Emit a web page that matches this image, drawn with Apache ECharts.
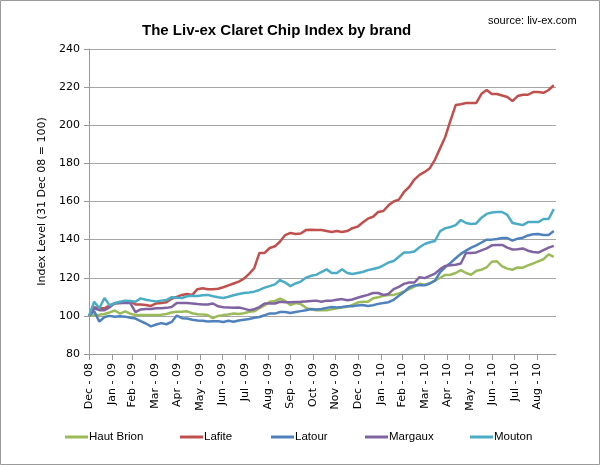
<!DOCTYPE html>
<html>
<head>
<meta charset="utf-8">
<script src="https://cdn.jsdelivr.net/npm/echarts@6/dist/echarts.min.js"></script>
<style>
html,body{margin:0;padding:0;background:#fff;}
#chart{width:600px;height:465px;}
</style>
</head>
<body>
<div id="chart"></div>
<script>
const dates = [
'2008-12-31',
'2009-01-07','2009-01-14','2009-01-21','2009-01-28',
'2009-02-04','2009-02-11','2009-02-18','2009-02-25',
'2009-03-04','2009-03-11','2009-03-18','2009-03-25',
'2009-04-01','2009-04-08','2009-04-15','2009-04-22','2009-04-29',
'2009-05-06','2009-05-13','2009-05-20','2009-05-27',
'2009-06-03','2009-06-10','2009-06-17','2009-06-24',
'2009-07-01','2009-07-08','2009-07-15','2009-07-22','2009-07-29',
'2009-08-05','2009-08-12','2009-08-19','2009-08-26',
'2009-09-02','2009-09-09','2009-09-16','2009-09-23','2009-09-30',
'2009-10-07','2009-10-14','2009-10-21','2009-10-28',
'2009-11-04','2009-11-11','2009-11-18','2009-11-25',
'2009-12-02','2009-12-09','2009-12-16','2009-12-23','2009-12-30',
'2010-01-06','2010-01-13','2010-01-20','2010-01-27',
'2010-02-03','2010-02-10','2010-02-17','2010-02-24',
'2010-03-03','2010-03-10','2010-03-17','2010-03-24','2010-03-31',
'2010-04-07','2010-04-14','2010-04-21','2010-04-28',
'2010-05-05','2010-05-12','2010-05-19','2010-05-26',
'2010-06-02','2010-06-09','2010-06-16','2010-06-23','2010-06-30',
'2010-07-07','2010-07-14','2010-07-21','2010-07-28',
'2010-08-04','2010-08-11','2010-08-18','2010-08-25',
'2010-09-01','2010-09-08','2010-09-15','2010-09-22'
];

const hautBrion = [100,100.3,100.6,101,101.8,102.8,101.2,102.4,101.2,100.5,
100.5,100.4,100.5,100.4,100.6,101,101.8,102.2,102.2,102.4,
101.4,100.9,100.7,100.4,98.8,100,100.4,100.7,101.2,101,
101.4,102.2,102.4,104,105.5,107.4,107.8,109,107.8,105.7,
106.7,106.2,104.2,103.4,103,103,103,103.5,104,104.4,
104.8,105.8,107,107.4,107.4,109.2,109.8,110.5,111,111,
111.8,112.8,114,115.3,116.8,116.4,117.2,118.5,120,121.5,
121.6,122.5,124,122.5,121.6,123.7,124.2,125.5,128.4,128.6,
126,124.8,124.2,125.4,125.3,126.5,127.5,128.6,129.7,132.3,
131];

const lafite = [100,104.5,104,104,105.5,106.5,106.7,107,107.8,106,
106,105.7,105.2,106.5,106.7,107.2,109,110,111,111.5,
111,114,114.5,114,114,114.2,115,116,117,118,
119.5,122,125,133,133,135.6,136.5,139,142.4,143.5,
143,143.2,145,145.2,145,145,144.5,144,144.5,144,
144.5,146,146.8,149,151,152,154.5,155,158,160,
161,165,167.6,171.5,174,175.5,177.5,182,188,194,
202.5,210.6,211,211.7,211.7,211.7,216.5,218.5,216.4,216.4,
215.6,214.8,212.7,215.3,216,216,217.4,217.4,217,218.5,
221];

const latour = [100,102.5,97,99.4,100,99.5,99.8,99.6,99,98.6,
97.2,96,94.5,95.5,96.2,95.6,96.8,100.2,98.8,98.6,
98,97.6,97.4,97,97.2,97.2,96.8,97.4,96.9,97.6,
98,98.4,99,99.4,100.3,101.3,101.2,102,102,101.5,
102,102.5,103,103.6,103.4,103.6,104.2,104.6,104.4,104.6,
105,105,105.5,105.7,105.2,105.6,106.3,106.7,107.2,108.4,
110.5,112.5,115,116,116.2,116,117,118.5,123,125.6,
127.8,130.2,132.5,134.2,135.8,137,138.5,140,140,140.3,
140.8,140.8,139.5,140.5,141,142.2,142.8,143,142.4,142.4,
144.5];

const margaux = [100,104,103,103,104.5,106.7,106.7,106.7,106.7,102,
103.4,103.6,103.6,104,104,104.2,104.6,106.7,106.7,106.7,
106.5,106.2,106,106,106.5,105,104.5,104.4,104.2,104.4,
103.8,103,103.5,104.6,106.5,106.5,106.5,107.4,107.2,107.2,
107.3,107.4,107.6,107.8,108,107.4,108,108,108.5,108.8,
108.2,108.6,109.5,110.3,111,112,112,111,111.5,114,
115.2,116.8,117.5,117.5,120.3,119.8,121,122.2,124.5,126.2,
126.6,126.8,127.5,133,133,133.3,134.4,135.4,137,137.2,
137.2,135.8,134.8,135,135.4,134.2,133.5,133.2,134.5,135.8,
136.7];

const mouton = [100,107.4,104,109.4,105.5,106.7,107.4,108,107.8,107.4,
109.2,108.5,108,107.6,108,108.3,109.8,109.5,109.4,110.3,
110.6,110.4,110.8,111,110.3,109.8,109.4,110,110.8,111.5,
112,112.3,112.7,113.6,114.8,115.6,116.5,118.8,117.5,115.6,
117,118,120,121,121.5,123,124.4,122.5,122.5,124.5,
122.5,122,122.5,123,124,124.6,125.2,126.5,128,128.8,
131,133.2,133.2,133.8,136,137.7,138.6,139.3,144.5,146,
146.6,147.6,150.3,148.7,148.2,148.5,151.5,153.5,154.2,154.5,
154.5,153,148.7,148.2,147.6,149.2,149.2,149.2,150.8,150.8,
156];

const seriesNames = ['Haut Brion','Lafite','Latour','Margaux','Mouton'];
const seriesValues = [hautBrion, lafite, latour, margaux, mouton];
const colors = ['#9BBB59','#C0504D','#4F81BD','#8064A2','#4BACC6'];

const tickDates = ['2008-12-31','2009-01-31','2009-02-28','2009-03-31','2009-04-30','2009-05-31',
'2009-06-30','2009-07-31','2009-08-31','2009-09-30','2009-10-31','2009-11-30','2009-12-31',
'2010-01-31','2010-02-28','2010-03-31','2010-04-30','2010-05-31','2010-06-30','2010-07-31','2010-08-31'];
const tickLabels = ['Dec - 08','Jan - 09','Feb - 09','Mar - 09','Apr - 09','May - 09','Jun - 09',
'Jul - 09','Aug - 09','Sep - 09','Oct - 09','Nov - 09','Dec - 09','Jan - 10','Feb - 10',
'Mar - 10','Apr - 10','May - 10','Jun - 10','Jul - 10','Aug - 10'];
const yTicks = [80,100,120,140,160,180,200,220,240];

const DAY = 86400000;
function dayNum(s){ const p = s.split('-'); return Math.round(Date.UTC(+p[0], +p[1]-1, +p[2]) / DAY); }
const tickDays = tickDates.map(dayNum);

const chart = echarts.init(document.getElementById('chart'));
const FONT = 'DejaVu Sans';
const legendLefts = [65,180,271,365,470];

chart.setOption({
  animation: false,
  color: colors,
  title: [
    {text: 'The Liv-ex Claret Chip Index by brand', left: 137, top: 18,
     textStyle: {fontFamily: 'Liberation Sans', fontWeight: 'bold', fontSize: 15, color: '#000'}},
    {text: 'source: liv-ex.com', left: 483, top: 10,
     textStyle: {fontFamily: 'Liberation Sans', fontWeight: 'normal', fontSize: 11, color: '#000'}}
  ],
  graphic: [{type: 'rect', shape: {x: 0.5, y: 0.5, width: 599, height: 464}, style: {fill: 'none', stroke: '#9a9a9a', lineWidth: 1}, silent: true}],
  legend: seriesNames.map((n, i) => ({
    data: [n], left: legendLefts[i], top: 431, padding: 0, icon: 'rect', itemWidth: 23, itemHeight: 3,
    itemGap: 0, textStyle: {fontFamily: 'Liberation Sans', fontSize: 11.5, color: '#000', padding: [0,0,0,-4]}
  })),
  grid: {left: 89, right: 44, top: 49, bottom: 111, containLabel: false},
  xAxis: {
    type: 'value', min: dayNum('2008-12-31'), max: dayNum('2010-09-25'),
    axisLine: {show: true, lineStyle: {color: '#999', width: 1}},
    axisTick: {show: true, length: 6, customValues: tickDays, lineStyle: {color: '#999'}},
    axisLabel: {customValues: tickDays, rotate: 90, margin: 9, fontFamily: FONT, fontSize: 11, color: '#000',
      showMinLabel: true, showMaxLabel: true,
      formatter: v => { const k = tickDays.indexOf(v); return k >= 0 ? tickLabels[k] : ''; }},
    splitLine: {show: false}
  },
  yAxis: {
    type: 'value', min: yTicks[0], max: yTicks[yTicks.length-1], interval: 20,
    name: 'Index Level (31 Dec 08 = 100)', nameLocation: 'middle', nameGap: 35,
    nameTextStyle: {fontFamily: FONT, fontSize: 11, color: '#000'},
    axisLine: {show: true, lineStyle: {color: '#999'}},
    axisTick: {show: true, length: 5, lineStyle: {color: '#999'}},
    axisLabel: {fontFamily: FONT, fontSize: 11, color: '#000', margin: 9},
    splitLine: {lineStyle: {color: '#a6a6a6', width: 1}}
  },
  series: seriesNames.map((n, i) => ({
    name: n, type: 'line', showSymbol: false, symbol: 'none',
    lineStyle: {width: 2.5, color: colors[i]}, itemStyle: {color: colors[i]},
    data: dates.map((d, j) => [dayNum(d), seriesValues[i][j]])
  }))
});
</script>
</body>
</html>
